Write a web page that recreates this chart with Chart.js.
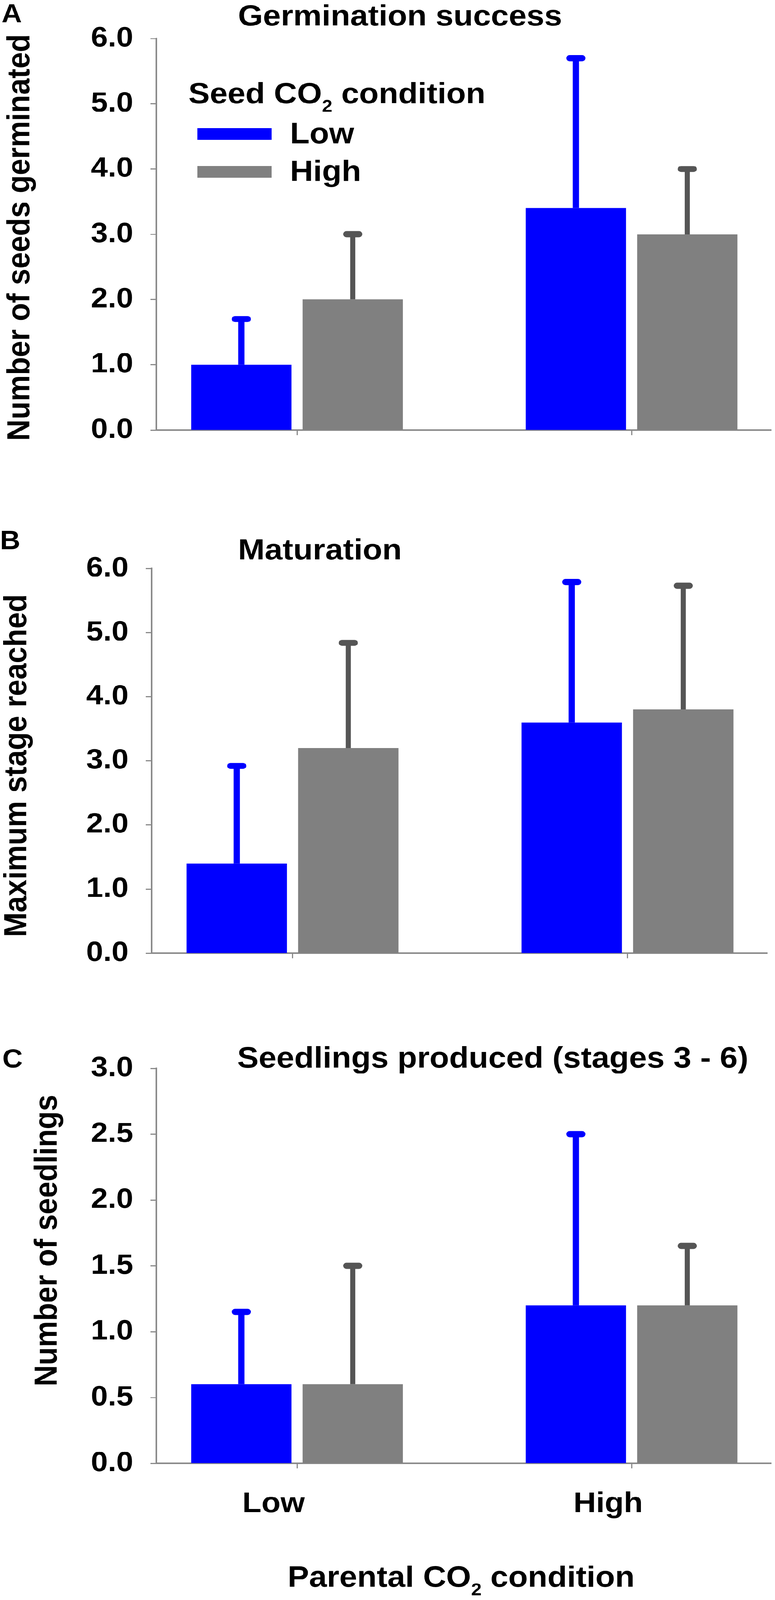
<!DOCTYPE html>
<html>
<head>
<meta charset="utf-8">
<script src="https://cdn.jsdelivr.net/npm/chart.js@4.4.1/dist/chart.umd.min.js"></script>
<style>
  html, body { margin: 0; padding: 0; background: #fff; overflow: hidden; }
  #page { position: absolute; left: 0; top: 0; width: 1983px; height: 4447px; transform-origin: 0 0; }
  .panel { position: absolute; left: 0; width: 1983px; }
</style>
</head>
<body>
<div id="page">
<div class="panel" style="top:0;height:1340px"><canvas id="chartA"></canvas></div>
<div class="panel" style="top:1340px;height:1400px"><canvas id="chartB"></canvas></div>
<div class="panel" style="top:2740px;height:1707px"><canvas id="chartC"></canvas></div>
</div>
<script>
// Parental CO2 condition (x categories) and seed CO2 condition (series)
const categories = ['Low', 'High'];
const seedConditions = ['Low', 'High'];
const seriesColors = ['#0000ff', '#808080'];
const errorColors = ['#0000ff', '#555555'];

// A - Germination success (means and standard errors)
const germLow = [1.0, 3.4];
const germHigh = [2.0, 3.0];
const germLowErr = [0.7, 2.3];
const germHighErr = [1.0, 1.0];

// B - Maturation
const matLow = [1.4, 3.6];
const matHigh = [3.2, 3.8];
const matLowErr = [1.52, 2.19];
const matHighErr = [1.64, 1.93];

// C - Seedlings produced
const seedlLow = [0.6, 1.2];
const seedlHigh = [0.6, 1.2];
const seedlLowErr = [0.55, 1.3];
const seedlHighErr = [0.9, 0.45];

// Y tick labels
const yTicksSix = [0, 1, 2, 3, 4, 5, 6];
const yTicksThree = [0, 0.5, 1, 1.5, 2, 2.5, 3];

// the figure is laid out for 4447px; squeeze it into whatever height the window has
const page = document.getElementById('page');
const fitY = Math.min(1, window.innerHeight / 4447);
page.style.transform = `scale(1, ${fitY})`;

const FONT = '"Liberation Sans", Arial, Helvetica, sans-serif';
Chart.defaults.font.family = FONT;
Chart.defaults.font.weight = 'bold';
Chart.defaults.color = '#000';

// draws a line of text with a subscript part
function drawRich(ctx, parts, x, y) {
    parts.forEach(([text, size, dy]) => {
        ctx.font = `bold ${size}px ${FONT}`;
        ctx.fillText(text, x, y + dy);
        x += ctx.measureText(text).width;
    });
}

// Error bars (upper only, with rounded cap)
const errorBars = {
    id: 'errorBars',
    afterDatasetsDraw(chart) {
        const { ctx } = chart;
        const yScale = chart.scales.y;
        ctx.save();
        chart.data.datasets.forEach((ds, di) => {
            chart.getDatasetMeta(di).data.forEach((bar, i) => {
                const top = yScale.getPixelForValue(ds.data[i].y + ds.errors[i]);
                ctx.strokeStyle = ds.errorColor;
                ctx.lineCap = 'butt';
                ctx.lineWidth = ds.errorWidth;
                ctx.beginPath();
                ctx.moveTo(bar.x, bar.y);
                ctx.lineTo(bar.x, top);
                ctx.stroke();
                ctx.lineCap = 'round';
                ctx.lineWidth = 17;
                ctx.beginPath();
                ctx.moveTo(bar.x - 16, top);
                ctx.lineTo(bar.x + 16, top);
                ctx.stroke();
            });
        });
        ctx.restore();
    }
};

// Panel letter, title, y title, legend and x title
const panelText = {
    id: 'panelText',
    afterDraw(chart, args, opts) {
        const { ctx } = chart;
        ctx.save();
        ctx.fillStyle = '#000';
        ctx.textAlign = 'left';
        ctx.textBaseline = 'alphabetic';

        ctx.font = `bold 72px ${FONT}`;
        ctx.fillText(opts.letter, opts.letterX, opts.letterY);

        ctx.font = `bold 82px ${FONT}`;
        ctx.fillText(opts.title, opts.titleX, opts.titleY);

        if (opts.legend) {
            const lg = opts.legend;
            drawRich(ctx, [['Seed CO', 82, 0], ['2', 48, 24], [' condition', 82, 0]], lg.x, lg.y);
            ctx.textBaseline = 'middle';
            ctx.font = `bold 82px ${FONT}`;
            chart.data.datasets.forEach((ds, k) => {
                const rowY = lg.rowsY[k];
                ctx.fillStyle = ds.backgroundColor;
                ctx.fillRect(lg.swatchX, rowY - 16, lg.swatchW, 33);
                ctx.fillStyle = '#000';
                ctx.fillText(ds.label, lg.labelX, rowY + 3);
            });
            ctx.textBaseline = 'alphabetic';
        }

        if (opts.xTitle) {
            drawRich(ctx, [['Parental CO', 82, 0], ['2', 48, 24], [' condition', 82, 0]], opts.xTitle.x, opts.xTitle.y);
        }

        ctx.translate(opts.yTitleX, opts.yTitleY);
        ctx.rotate(-Math.PI / 2);
        ctx.textAlign = 'center';
        ctx.textBaseline = 'middle';
        ctx.font = `bold 82px ${FONT}`;
        ctx.fillText(opts.yTitle, 0, 0);
        ctx.restore();
    }
};

function makeChart(canvasId, p) {
    const axisGray = '#8a8a8a';
    return new Chart(document.getElementById(canvasId), {
        type: 'bar',
        data: {
            datasets: seedConditions.map((name, k) => ({
                label: name,
                data: categories.map((c, i) => ({ x: i, y: p.values[k][i] })),
                errors: p.errors[k],
                backgroundColor: seriesColors[k],
                errorColor: errorColors[k],
                errorWidth: k === 0 ? 16 : 13,
                borderWidth: 0,
                categoryPercentage: 0.666,
                barPercentage: 0.9,
            }))
        },
        options: {
            responsive: true,
            maintainAspectRatio: false,
            animation: false,
            events: [],
            layout: { padding: { top: p.top, left: 0, right: p.right, bottom: 0 } },
            plugins: {
                legend: { display: false },
                tooltip: { enabled: false },
                panelText: p.text,
            },
            scales: {
                x: {
                    type: 'linear',
                    min: -0.4206,
                    max: 1.417,
                    offset: false,
                    afterBuildTicks: s => { s.ticks = categories.map((c, i) => ({ value: i })); },
                    afterFit: s => { s.height = p.xHeight; },
                    ticks: {
                        callback: (v, i) => p.showX ? categories[i] : '',
                        labelOffset: -60,
                        padding: 52,
                        autoSkip: false,
                        maxRotation: 0,
                        color: '#000',
                        font: { size: 80, weight: 'bold' },
                    },
                    grid: { offset: false, drawOnChartArea: false, tickLength: 14, tickWidth: 3, tickColor: axisGray },
                    border: { color: axisGray, width: 4 },
                },
                y: {
                    min: 0,
                    max: p.yTicks[p.yTicks.length - 1],
                    afterBuildTicks: s => { s.ticks = p.yTicks.map(v => ({ value: v })); },
                    afterFit: s => { s.width = p.axisX; },
                    ticks: {
                        callback: v => v.toFixed(1),
                        padding: 44,
                        autoSkip: false,
                        color: '#000',
                        font: { size: 78, weight: 'bold' },
                    },
                    grid: { drawOnChartArea: false, tickLength: 15, tickWidth: 3, tickColor: axisGray },
                    border: { color: axisGray, width: 4 },
                }
            }
        },
        plugins: [errorBars, panelText]
    });
}

makeChart('chartA', {
    values: [germLow, germHigh],
    errors: [germLowErr, germHighErr],
    yTicks: yTicksSix,
    top: 107, right: 10, axisX: 400, xHeight: 145, showX: false,
    text: {
        letter: 'A', letterX: 4, letterY: 62,
        title: 'Germination success', titleX: 609, titleY: 71,
        yTitle: 'Number of seeds germinated', yTitleX: 52, yTitleY: 660,
        legend: { x: 482, y: 287, swatchX: 505, swatchW: 190, labelX: 742, rowsY: [372, 477] },
    }
});

makeChart('chartB', {
    values: [matLow, matHigh],
    errors: [matLowErr, matHighErr],
    yTicks: yTicksSix,
    top: 240, right: 20, axisX: 388, xHeight: 60, showX: false,
    text: {
        letter: 'B', letterX: 0, letterY: 186,
        title: 'Maturation', titleX: 609, titleY: 215,
        yTitle: 'Maximum stage reached', yTitleX: 44, yTitleY: 788,
    }
});

makeChart('chartC', {
    values: [seedlLow, seedlHigh],
    errors: [seedlLowErr, seedlHighErr],
    yTicks: yTicksThree,
    top: 229, right: 10, axisX: 400, xHeight: 380, showX: true,
    text: {
        letter: 'C', letterX: 6, letterY: 227,
        title: 'Seedlings produced (stages 3 - 6)', titleX: 607, titleY: 227,
        yTitle: 'Number of seedlings', yTitleX: 122, yTitleY: 708,
        xTitle: { x: 736, y: 1670 },
    }
});
</script>
</body>
</html>
